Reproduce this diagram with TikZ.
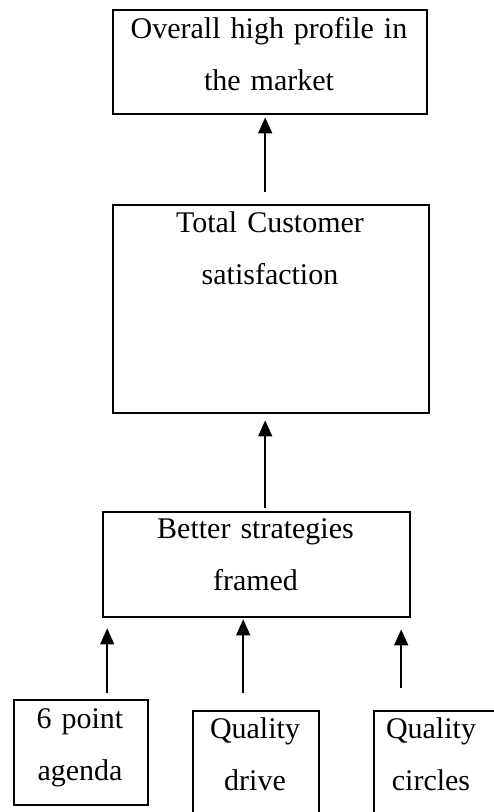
\documentclass[tikz,border=0pt]{standalone}
\usepackage{fontspec}
\setmainfont{Liberation Serif}
\usetikzlibrary{arrows.meta}
\begin{document}
\begin{tikzpicture}[x=1pt,y=1pt,
  box/.style={draw, line width=2.4pt, rectangle, inner sep=0pt, anchor=north west},
  txt/.style={font=\fontsize{30}{52}\selectfont, align=center, anchor=base, inner sep=0pt},
  arr/.style={-{Triangle[length=16pt,width=14pt]}, line width=1.6pt}]
\useasboundingbox (0,0) rectangle (494,-812);
\fill[white] (0,0) rectangle (494,-812);
\clip (0,0) rectangle (494,-812);
% boxes
\node[box, minimum width=314pt, minimum height=104pt] (b1) at (112,-9) {};
\node[box, minimum width=316pt, minimum height=208pt] (b2) at (112,-204) {};
\node[box, minimum width=307pt, minimum height=105pt] (b3) at (102,-511) {};
\node[box, minimum width=134pt, minimum height=105pt] (b4) at (13,-699) {};
\node[box, minimum width=126pt, minimum height=130pt] (b5) at (192,-710) {};
\node[box, minimum width=140pt, minimum height=130pt] (b6) at (373,-710) {};
% texts
\node[txt, text width=300pt] (t1) at (269,-38) {Overall high profile in\\the market};
\node[txt, text width=300pt] (t2) at (270,-232) {Total Customer\\satisfaction};
\node[txt, text width=290pt] (t3) at (255.5,-538) {Better strategies\\framed};
\node[txt, text width=120pt] (t4) at (80,-728) {6 point\\agenda};
\node[txt, text width=120pt] (t5) at (255,-738) {Quality\\drive};
\node[txt, text width=120pt] (t6) at (431,-738) {Quality\\circles};
% arrows
\draw[arr] ([xshift=-6pt,yshift=12pt]b2.north) -- ([xshift=-5pt,yshift=-2pt]b1.south);
\draw[arr] ([xshift=8.5pt,yshift=3pt]b3.north) -- ([xshift=-6pt,yshift=-6pt]b2.south);
\draw[arr] ([xshift=26pt,yshift=6pt]b4.north) -- ([xshift=-149.5pt,yshift=-10pt]b3.south);
\draw[arr] ([xshift=-13pt,yshift=17pt]b5.north) -- ([xshift=-13.5pt,yshift=-1pt]b3.south);
\draw[arr] ([xshift=-43pt,yshift=22pt]b6.north) -- ([xshift=144.5pt,yshift=-11pt]b3.south);
\end{tikzpicture}
\end{document}
